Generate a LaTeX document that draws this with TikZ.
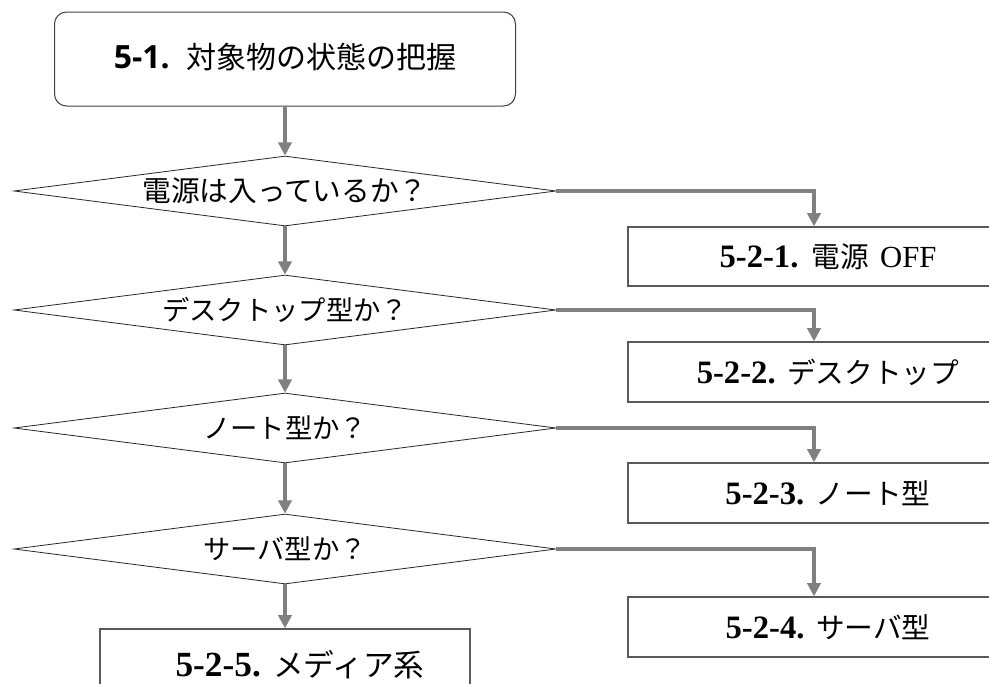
\documentclass[tikz,border=0pt]{standalone}
\usepackage{fontspec}
\newfontfamily\jpfont{Noto Sans CJK JP}
\newfontfamily\headfont{Open Sans}
\newfontfamily\numfont{Liberation Serif}
\usetikzlibrary{shapes.geometric,arrows.meta}

\newcommand\stepno[2][24.5]{{\numfont\bfseries\fontsize{#1}{#1}\selectfont #2}}

\tikzset{every picture/.style={line width=0.75pt}}
\tikzset{
  startbox/.style={draw={rgb, 255:red, 64; green, 64; blue, 64 }, rounded corners=9pt, minimum width=345.75pt, minimum height=70.5pt, inner sep=0pt},
  decision/.style={diamond, draw={rgb, 255:red, 38; green, 38; blue, 38 }, line width=0.6pt, shape aspect=7.7, minimum width=406.5pt, minimum height=52.5pt, inner sep=0pt, font=\jpfont\fontsize{20.5}{24}\selectfont},
  resultbox/.style={draw={rgb, 255:red, 89; green, 89; blue, 89 }, line width=1pt, minimum width=279pt, minimum height=44.25pt, inner sep=0pt, font=\fontsize{21.5}{26}\selectfont},
  flow/.style={draw={rgb, 255:red, 128; green, 128; blue, 128 }, line width=2.4pt, -{Triangle[length=10pt,width=10pt]}},
}

\begin{document}
\begin{tikzpicture}[x=0.75pt,y=0.75pt,yscale=-1,xscale=1]
	\useasboundingbox (0,0) rectangle (989,683);
	\clip (0,0) rectangle (989,683);
	
	%Shape: Rounded Rect [id:start] 
	\node [startbox] (start) at (285,59) {\raisebox{5pt}{\fontsize{22.5}{27}\selectfont{\headfont\bfseries\fontsize{24}{27}\selectfont 5-1.}\hspace{0.55em}{\jpfont 対象物の状態の把握}}};
	
	%Shape: Diamond [id:q1] 
	\node [decision, font=\jpfont\fontsize{21.5}{25}\selectfont] (q1) at (285,191) {電源は入っているか？};
	%Shape: Diamond [id:q2] 
	\node [decision] (q2) at (285,310) {デスクトップ型か？};
	%Shape: Diamond [id:q3] 
	\node [decision] (q3) at (285,428) {ノート型か？};
	%Shape: Diamond [id:q4] 
	\node [decision] (q4) at (285,549) {サーバ型か？};
	
	%Shape: Rectangle [id:r1] 
	\node [resultbox] (r1) at (814,256.5) {\hspace*{21pt}\stepno{5-2-1.}\hspace{0.45em}{\jpfont 電源}\hspace{0.4em}{\numfont\fontsize{23}{26}\selectfont OFF}};
	%Shape: Rectangle [id:r2] 
	\node [resultbox, minimum height=45pt] (r2) at (814,372) {\hspace*{21pt}\stepno{5-2-2.} {\jpfont デスクトップ}};
	%Shape: Rectangle [id:r3] 
	\node [resultbox, minimum height=45pt] (r3) at (814,493) {\hspace*{21pt}\stepno{5-2-3.} {\jpfont ノート型}};
	%Shape: Rectangle [id:r4] 
	\node [resultbox, minimum height=45pt] (r4) at (814,627) {\hspace*{21pt}\stepno{5-2-4.} {\jpfont サーバ型}};
	%Shape: Rectangle [id:r5] 
	\node [resultbox, minimum width=277.5pt, minimum height=54pt, font=\fontsize{23}{28}\selectfont] (r5) at (285,665) {\hspace*{22.5pt}\stepno[26.5]{5-2-5.} {\jpfont メディア系}};
	
	% Connector
	\draw [flow] (start.south) -- (q1.north);
	\draw [flow] (q1.south) -- (q2.north);
	\draw [flow] (q2.south) -- (q3.north);
	\draw [flow] (q3.south) -- (q4.north);
	\draw [flow] (q4.south) -- (r5.north);
	% Connector
	\draw [flow] (q1.east) -| (r1.north);
	\draw [flow] (q2.east) -| (r2.north);
	\draw [flow] (q3.east) -| (r3.north);
	\draw [flow] (q4.east) -| (r4.north);
	
\end{tikzpicture}
\end{document}
